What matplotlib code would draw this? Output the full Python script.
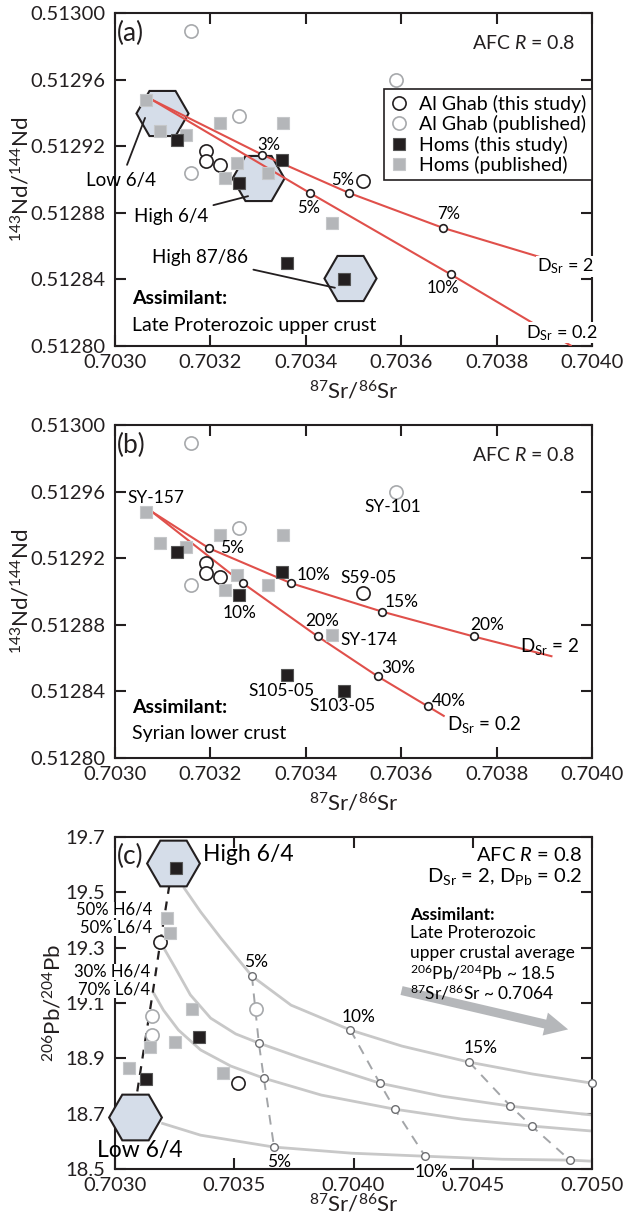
import matplotlib
matplotlib.use("Agg")
import matplotlib.pyplot as plt

plt.rcParams['font.family'] = ['Lato', 'DejaVu Sans']
plt.rcParams['mathtext.fontset'] = 'custom'
plt.rcParams['mathtext.rm'] = 'Lato'
plt.rcParams['mathtext.it'] = 'Lato:italic'
plt.rcParams['mathtext.bf'] = 'Lato:bold'

# ---- Sr-Nd samples (panels a and b) ----
ghabThisSr = [0.70319, 0.70319, 0.70322, 0.70352]
ghabThisNd = [0.512917, 0.512911, 0.512909, 0.512899]
ghabPubSr = [0.70316, 0.70326, 0.70316, 0.70359]
ghabPubNd = [0.512989, 0.512938, 0.512904, 0.512960]
homsThisSr = [0.70313, 0.70326, 0.70335, 0.70336, 0.70348]
homsThisNd = [0.512924, 0.512898, 0.512912, 0.512850, 0.512840]
homsPubSr = [0.703065, 0.703094, 0.703149, 0.703220, 0.703352, 0.703255, 0.703230, 0.703320, 0.703454]
homsPubNd = [0.512948, 0.512929, 0.512927, 0.512934, 0.512934, 0.512910, 0.512901, 0.512904, 0.512874]

# end-members (hexagons) panel a
hexASr = [0.703098, 0.703300, 0.703492]
hexANd = [0.512940, 0.512901, 0.512841]

# AFC curves panel a
aD2Sr = [0.703077, 0.703308, 0.703490, 0.703687, 0.704000]
aD2Nd = [0.512948, 0.512915, 0.512892, 0.512871, 0.512844]
aD2TickSr = [0.703308, 0.703490, 0.703687]
aD2TickNd = [0.512915, 0.512892, 0.512871]
aD02Sr = [0.703077, 0.703408, 0.703704, 0.703957]
aD02Nd = [0.512948, 0.512892, 0.512843, 0.512800]
aD02TickSr = [0.703408, 0.703704]
aD02TickNd = [0.512892, 0.512843]

# AFC curves panel b
bD2Sr = [0.703077, 0.703197, 0.703369, 0.703559, 0.703752, 0.703917]
bD2Nd = [0.512948, 0.512926, 0.512905, 0.512888, 0.512873, 0.512861]
bD2TickSr = [0.703197, 0.703369, 0.703559, 0.703752]
bD2TickNd = [0.512926, 0.512905, 0.512888, 0.512873]
bD02Sr = [0.703077, 0.703268, 0.703425, 0.703551, 0.703656, 0.703691]
bD02Nd = [0.512948, 0.512905, 0.512873, 0.512849, 0.512831, 0.512825]
bD02TickSr = [0.703268, 0.703425, 0.703551, 0.703656]
bD02TickNd = [0.512905, 0.512873, 0.512849, 0.512831]

# ---- Sr-Pb panel c ----
cGhabThisSr = [0.703190, 0.703515]
cGhabThisPb = [19.320, 18.810]
cGhabPubSr = [0.703156, 0.703156, 0.703591]
cGhabPubPb = [19.053, 18.984, 19.078]
cHomsThisSr = [0.703257, 0.703354, 0.703131]
cHomsThisPb = [19.588, 18.977, 18.825]
cHomsPubSr = [0.703219, 0.703232, 0.703321, 0.703148, 0.703253, 0.703060, 0.703454]
cHomsPubPb = [19.407, 19.353, 19.078, 18.940, 18.958, 18.865, 18.847]
hexCSr = [0.703245, 0.703084]
hexCPb = [19.606, 18.687]

mixSr = [0.703228, 0.703190, 0.703160, 0.703127, 0.703093]
mixPb = [19.526, 19.320, 19.147, 18.966, 18.778]

curve1Sr = [0.703287, 0.703359, 0.703443, 0.703574, 0.703738, 0.703987, 0.704203, 0.704485, 0.704751, 0.705000]
curve1Pb = [19.519, 19.429, 19.335, 19.197, 19.092, 19.002, 18.944, 18.886, 18.843, 18.810]
curve2Sr = [0.703190, 0.703253, 0.703316, 0.703401, 0.703506, 0.703603, 0.703781, 0.704110, 0.704371, 0.704658, 0.705000]
curve2Pb = [19.320, 19.226, 19.129, 19.045, 18.988, 18.955, 18.901, 18.810, 18.763, 18.727, 18.695]
curve3Sr = [0.703160, 0.703203, 0.703266, 0.703359, 0.703485, 0.703624, 0.703865, 0.704173, 0.704456, 0.704747, 0.705000]
curve3Pb = [19.139, 19.074, 19.002, 18.930, 18.872, 18.828, 18.767, 18.716, 18.680, 18.655, 18.637]
curve4Sr = [0.703194, 0.703359, 0.703667, 0.703992, 0.704300, 0.704624, 0.704907, 0.705000]
curve4Pb = [18.666, 18.622, 18.579, 18.557, 18.546, 18.535, 18.532, 18.528]

pct5Sr = [0.703574, 0.703603, 0.703624, 0.703667]
pct5Pb = [19.197, 18.955, 18.828, 18.579]
pct10Sr = [0.703987, 0.704110, 0.704173, 0.704300]
pct10Pb = [19.002, 18.810, 18.716, 18.546]
pct15Sr = [0.704485, 0.704658, 0.704747, 0.704907]
pct15Pb = [18.886, 18.727, 18.655, 18.532]
pct20Sr = [0.705000]
pct20Pb = [18.810]

ndTicks = [0.51280, 0.51284, 0.51288, 0.51292, 0.51296, 0.51300]
ndTickLabels = ['0.51280', '0.51284', '0.51288', '0.51292', '0.51296', '0.51300']
srTicksAB = [0.7030, 0.7032, 0.7034, 0.7036, 0.7038, 0.7040]
srTickLabelsAB = ['0.7030', '0.7032', '0.7034', '0.7036', '0.7038', '0.7040']
pbTicks = [18.5, 18.7, 18.9, 19.1, 19.3, 19.5, 19.7]
pbTickLabels = ['18.5', '18.7', '18.9', '19.1', '19.3', '19.5', '19.7']
srTicksC = [0.7030, 0.7035, 0.7040, 0.7045, 0.7050]
srTickLabelsC = ['0.7030', '0.7035', '0.7040', '0.7045', '0.7050']

BLACK = '#231f20'
GRAY_SQ = '#b4b6b9'
GRAY_CIRC = '#a7a9ac'
RED = '#e0504b'
HEX_FILL = '#d5dde9'
CURVE_GRAY = '#c8c8c8'
WHITE_BOX = dict(facecolor='white', edgecolor='none', pad=0.5)


def SetupAxes(ax, xticks, xlabels, yticks, ylabels, ylabel, xlabelY, ylabelX):
    ax.set_xlim(xticks[0], xticks[-1])
    ax.set_ylim(yticks[0], yticks[-1])
    ax.set_xticks(xticks)
    ax.set_xticklabels(xlabels)
    ax.set_yticks(yticks)
    ax.set_yticklabels(ylabels)
    ax.tick_params(direction='in', length=8, width=1.5, top=True, right=True,
                   labelsize=14.5, colors=BLACK)
    ax.tick_params(axis='y', pad=7)
    ax.tick_params(axis='x', pad=6)
    for s in ax.spines.values():
        s.set_linewidth(1.5)
        s.set_color(BLACK)
    ax.set_xlabel('$^{87}$Sr/$^{86}$Sr', fontsize=16, color=BLACK)
    ax.set_ylabel(ylabel, fontsize=16, color=BLACK)
    ax.xaxis.set_label_coords(0.5, xlabelY)
    ax.yaxis.set_label_coords(ylabelX, 0.5)


def DrawSamples(ax, gtx, gty, gpx, gpy, htx, hty, hpx, hpy):
    h1, = ax.plot(gtx, gty, 'o', ms=9.5, mfc='white', mec=BLACK, mew=1.2, zorder=5)
    h2, = ax.plot(gpx, gpy, 'o', ms=9.5, mfc='white', mec=GRAY_CIRC, mew=1.2, zorder=5)
    h4, = ax.plot(hpx, hpy, 's', ms=9, mfc=GRAY_SQ, mec='#c5c7c9', mew=0.8, zorder=5)
    h3, = ax.plot(htx, hty, 's', ms=9, mfc=BLACK, mec='#555555', mew=0.8, zorder=6)
    return [h1, h2, h3, h4]


def DrawRedCurve(ax, x, y, tx, ty):
    ax.plot(x, y, color=RED, lw=1.5, zorder=4, solid_capstyle='butt')
    ax.plot(tx, ty, 'o', ms=5.5, mfc='white', mec=BLACK, mew=1.2, zorder=7)


fig = plt.figure(figsize=(6.23, 12.15), dpi=100)
axA = fig.add_axes([0.1846, 0.7152, 0.7657, 0.2741])
axB = fig.add_axes([0.1846, 0.3761, 0.7657, 0.2741])
axC = fig.add_axes([0.1846, 0.0379, 0.7657, 0.2733])

# ---------------- panel (a) ----------------
SetupAxes(axA, srTicksAB, srTickLabelsAB, ndTicks, ndTickLabels,
          '$^{143}$Nd/$^{144}$Nd', -0.1, -0.172)
axA.plot(hexASr, hexANd, 'H', ms=37.5, mfc=HEX_FILL, mec=BLACK, mew=1.5, zorder=2, clip_on=False)
handles = DrawSamples(axA, ghabThisSr, ghabThisNd, ghabPubSr, ghabPubNd,
                      homsThisSr, homsThisNd, homsPubSr, homsPubNd)
DrawRedCurve(axA, aD2Sr, aD2Nd, aD2TickSr, aD2TickNd)
DrawRedCurve(axA, aD02Sr, aD02Nd, aD02TickSr, aD02TickNd)
leg = axA.legend(handles, ['Al Ghab (this study)', 'Al Ghab (published)',
                           'Homs (this study)', 'Homs (published)'],
                 loc='upper left', bbox_to_anchor=(0.564, 0.772), fontsize=14,
                 frameon=True, fancybox=False, framealpha=1, edgecolor=BLACK,
                 borderpad=0.3, labelspacing=0.12, handlelength=0.9,
                 handletextpad=0.6, borderaxespad=0)
leg.get_frame().set_linewidth(1.2)
leg.set_zorder(10)

axA.text(0.004, 0.94, '(a)', transform=axA.transAxes, fontsize=19, va='center', color=BLACK)
axA.text(0.964, 0.91, 'AFC $R$ = 0.8', transform=axA.transAxes, fontsize=14, ha='right', va='center', color=BLACK)
axA.text(0.703323, 0.512921, '3%', fontsize=12, ha='center', va='center', zorder=8)
axA.text(0.703478, 0.512900, '5%', fontsize=12, ha='center', va='center', zorder=8)
axA.text(0.703406, 0.512883, '5%', fontsize=12, ha='center', va='center', zorder=8)
axA.text(0.703700, 0.512879, '7%', fontsize=12, ha='center', va='center', zorder=8)
axA.text(0.703687, 0.512835, '10%', fontsize=12, ha='center', va='center', zorder=8)
axA.text(0.703884, 0.512848, 'D$_{\\mathrm{Sr}}$ = 2', fontsize=13, ha='left', va='center', zorder=8, bbox=WHITE_BOX)
axA.text(0.703861, 0.512808, 'D$_{\\mathrm{Sr}}$ = 0.2', fontsize=13, ha='left', va='center', zorder=8, bbox=WHITE_BOX)

axA.annotate('Low 6/4', xy=(0.703063, 0.512937), xytext=(0.703013, 0.5128997),
             fontsize=13.5, ha='center', va='center', zorder=8,
             arrowprops=dict(arrowstyle='-', color=BLACK, lw=1.3, shrinkA=3, shrinkB=0))
axA.annotate('High 6/4', xy=(0.703279, 0.512890), xytext=(0.703117, 0.512878),
             fontsize=13.5, ha='center', va='center', zorder=8,
             arrowprops=dict(arrowstyle='-', color=BLACK, lw=1.3, shrinkA=2, shrinkB=0))
axA.annotate('High 87/86', xy=(0.703461, 0.512835), xytext=(0.703178, 0.512853),
             fontsize=13.5, ha='center', va='center', zorder=8,
             arrowprops=dict(arrowstyle='-', color=BLACK, lw=1.3, shrinkA=2, shrinkB=0))
axA.text(0.036, 0.144, 'Assimilant:', transform=axA.transAxes, fontsize=14, fontweight='bold', va='center')
axA.text(0.036, 0.063, 'Late Proterozoic upper crust', transform=axA.transAxes, fontsize=14, va='center')

# ---------------- panel (b) ----------------
SetupAxes(axB, srTicksAB, srTickLabelsAB, ndTicks, ndTickLabels,
          '$^{143}$Nd/$^{144}$Nd', -0.1, -0.172)
DrawSamples(axB, ghabThisSr, ghabThisNd, ghabPubSr, ghabPubNd,
            homsThisSr, homsThisNd, homsPubSr, homsPubNd)
DrawRedCurve(axB, bD2Sr, bD2Nd, bD2TickSr, bD2TickNd)
DrawRedCurve(axB, bD02Sr, bD02Nd, bD02TickSr, bD02TickNd)
axB.text(0.004, 0.94, '(b)', transform=axB.transAxes, fontsize=19, va='center', color=BLACK)
axB.text(0.964, 0.91, 'AFC $R$ = 0.8', transform=axB.transAxes, fontsize=14, ha='right', va='center', color=BLACK)
bLabels = [
    (0.703027, 0.512956, 'SY-157', 'left'),
    (0.703582, 0.512951, 'SY-101', 'center'),
    (0.703532, 0.512908, 'S59-05', 'center'),
    (0.703473, 0.512871, 'SY-174', 'left'),
    (0.703350, 0.512840, 'S105-05', 'center'),
    (0.703477, 0.512831, 'S103-05', 'center'),
    (0.703220, 0.512926, '5%', 'left'),
    (0.703381, 0.512910, '10%', 'left'),
    (0.703565, 0.512894, '15%', 'left'),
    (0.703781, 0.512880, '20%', 'center'),
    (0.703262, 0.512887, '10%', 'center'),
    (0.703434, 0.512882, '20%', 'center'),
    (0.703559, 0.512854, '30%', 'left'),
    (0.703664, 0.512834, '40%', 'left'),
]
for x, y, s, ha in bLabels:
    axB.text(x, y, s, fontsize=12.5, ha=ha, va='center', zorder=8)
axB.text(0.703848, 0.512867, 'D$_{\\mathrm{Sr}}$ = 2', fontsize=13.5, ha='left', va='center', zorder=8)
axB.text(0.703697, 0.512820, 'D$_{\\mathrm{Sr}}$ = 0.2', fontsize=13.5, ha='left', va='center', zorder=8)
axB.text(0.036, 0.153, 'Assimilant:', transform=axB.transAxes, fontsize=14, fontweight='bold', va='center')
axB.text(0.036, 0.075, 'Syrian lower crust', transform=axB.transAxes, fontsize=14, va='center')

# ---------------- panel (c) ----------------
SetupAxes(axC, srTicksC, srTickLabelsC, pbTicks, pbTickLabels,
          '$^{206}$Pb/$^{204}$Pb', -0.072, -0.105)
for cx, cy in [(curve1Sr, curve1Pb), (curve2Sr, curve2Pb), (curve3Sr, curve3Pb), (curve4Sr, curve4Pb)]:
    axC.plot(cx, cy, color=CURVE_GRAY, lw=2, zorder=2, solid_capstyle='butt')
for px, py in [(pct5Sr, pct5Pb), (pct10Sr, pct10Pb), (pct15Sr, pct15Pb)]:
    axC.plot(px, py, color='#a3a5a8', lw=1.4, dashes=(5, 4), zorder=3)
    axC.plot(px, py, 'o', ms=5.5, mfc='white', mec='#6d6e71', mew=1, zorder=6)
axC.plot(pct20Sr, pct20Pb, 'o', ms=5.5, mfc='white', mec='#6d6e71', mew=1, zorder=6, clip_on=False)
axC.plot(mixSr, mixPb, color=BLACK, lw=1.6, dashes=(4, 3.5), zorder=3)
axC.plot(hexCSr, hexCPb, 'H', ms=38, mfc=HEX_FILL, mec=BLACK, mew=1.5, zorder=4, clip_on=False)
DrawSamples(axC, cGhabThisSr, cGhabThisPb, cGhabPubSr, cGhabPubPb,
            cHomsThisSr, cHomsThisPb, cHomsPubSr, cHomsPubPb)

axC.annotate('', xy=(0.704911, 19.002), xytext=(0.704190, 19.147),
             arrowprops=dict(arrowstyle='simple,head_width=1.3,head_length=1.3,tail_width=0.5',
                             color='#b5b7ba', lw=0, mutation_scale=13), zorder=3)

axC.text(0.004, 0.94, '(c)', transform=axC.transAxes, fontsize=19, va='center', color=BLACK)
axC.text(0.703370, 19.635, 'High 6/4', fontsize=16.5, ha='left', va='center')
axC.text(0.703105, 18.568, 'Low 6/4', fontsize=16.5, ha='center', va='center', zorder=9, clip_on=False)
for y, s, xr in [(19.436, '50% H6/4', 0.703156), (19.371, '50% L6/4', 0.703156),
                 (19.212, '30% H6/4', 0.703148), (19.148, '70% L6/4', 0.703148)]:
    axC.text(xr, y, s, fontsize=12, ha='right', va='center', zorder=9, clip_on=False,
             bbox=dict(facecolor='white', edgecolor='none', pad=0.1))
axC.text(0.703591, 19.248, '5%', fontsize=12.5, ha='center', va='center')
axC.text(0.704021, 19.049, '10%', fontsize=12.5, ha='center', va='center')
axC.text(0.704532, 18.937, '15%', fontsize=12.5, ha='center', va='center')
axC.text(0.703688, 18.525, '5%', fontsize=12.5, ha='center', va='center')
axC.text(0.704329, 18.488, '10%', fontsize=12.5, ha='center', va='center', zorder=9, bbox=WHITE_BOX, clip_on=False)

axC.text(0.979, 0.946, 'AFC $R$ = 0.8', transform=axC.transAxes, fontsize=14.5, ha='right', va='center')
axC.text(0.979, 0.88, 'D$_{\\mathrm{Sr}}$ = 2, D$_{\\mathrm{Pb}}$ = 0.2', transform=axC.transAxes, fontsize=14.5, ha='right', va='center')
axC.text(0.618, 0.765, 'Assimilant:', transform=axC.transAxes, fontsize=12.5, fontweight='bold', va='center')
assimLines = ['Late Proterozoic', 'upper crustal average',
              '$^{206}$Pb/$^{204}$Pb ~ 18.5', '$^{87}$Sr/$^{86}$Sr ~ 0.7064']
assimY = [0.711, 0.651, 0.590, 0.530]
for s, y in zip(assimLines, assimY):
    axC.text(0.618, y, s, transform=axC.transAxes, fontsize=12.5, va='center')

fig.savefig('out.png', dpi=100)
